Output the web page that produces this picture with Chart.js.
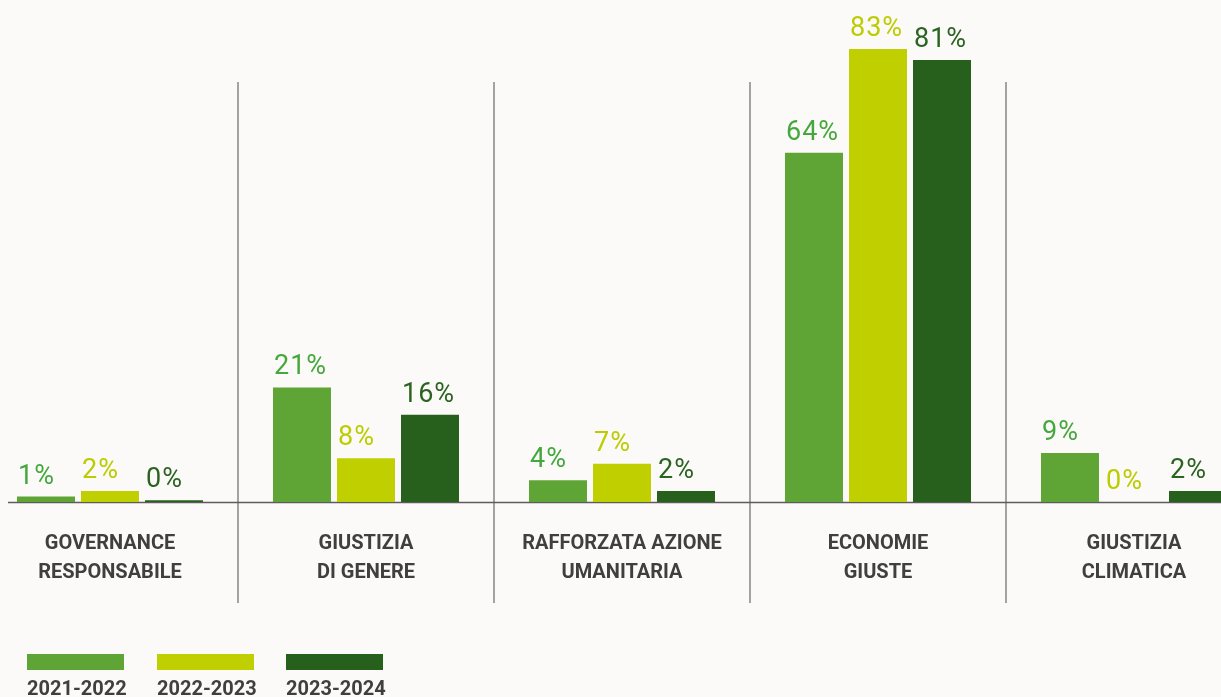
<!DOCTYPE html>
<html>
<head>
<meta charset="utf-8">
<script src="https://cdn.jsdelivr.net/npm/chart.js@4/dist/chart.umd.min.js"></script>
<style>
  html, body { margin: 0; padding: 0; background: #fcfaf8; overflow: hidden; }
  body { width: 1221px; height: 697px; position: relative; font-family: Roboto, sans-serif; }
  #chart { position: absolute; left: -18px; top: 0; }
  #legend { position: absolute; left: 0; top: 654px; }
  .item { position: absolute; top: 0; width: 97px; }
  .box { width: 97px; height: 16px; }
  .lbl { margin-top: 6px; font-size: 20px; font-weight: bold; color: #3f3f3f; line-height: 24px; white-space: nowrap; }
</style>
</head>
<body>
<canvas id="chart" width="1280" height="697"></canvas>
<div id="legend"></div>
<script>
const categories = [
    ['GOVERNANCE', 'RESPONSABILE'],
    ['GIUSTIZIA', 'DI GENERE'],
    ['RAFFORZATA AZIONE', 'UMANITARIA'],
    ['ECONOMIE', 'GIUSTE'],
    ['GIUSTIZIA', 'CLIMATICA']
]
const seriesNames = ['2021-2022', '2022-2023', '2023-2024']
const values2122 = [1, 21, 4, 64, 9]
const values2223 = [2, 8, 7, 83, 0]
const values2324 = [0.3, 16, 2, 81, 2]

const barColors = ['#5fa535', '#c0cf00', '#275f1c']
const labelColors = ['#44a83d', '#bccc00', '#2a6420']

// value labels, left aligned on top of each bar
const valueLabels = {
    id: 'valueLabels',
    afterDatasetsDraw(chart) {
        const ctx = chart.ctx
        ctx.save()
        ctx.font = '27px Roboto'
        ctx.letterSpacing = '1px'
        ctx.textAlign = 'left'
        ctx.textBaseline = 'alphabetic'
        chart.data.datasets.forEach((ds, i) => {
            const meta = chart.getDatasetMeta(i)
            meta.data.forEach((bar, j) => {
                ctx.fillStyle = labelColors[i]
                ctx.fillText(Math.round(ds.data[j]) + '%', bar.x - bar.width / 2 + 1, bar.y - 13)
            })
        })
        ctx.restore()
    }
}

// baseline and separators between categories
const frame = {
    id: 'frame',
    beforeDatasetsDraw(chart) {
        const ctx = chart.ctx
        const x = chart.scales.x
        const bottom = chart.chartArea.bottom
        ctx.save()
        ctx.strokeStyle = '#a3a3a3'
        ctx.lineWidth = 2
        for (let i = 1; i < categories.length; i++) {
            const sx = Math.round((x.getPixelForValue(i - 1) + x.getPixelForValue(i)) / 2)
            ctx.beginPath()
            ctx.moveTo(sx, 82)
            ctx.lineTo(sx, 603)
            ctx.stroke()
        }
        ctx.strokeStyle = '#5c5c5c'
        ctx.lineWidth = 1.5
        ctx.beginPath()
        ctx.moveTo(26, bottom + 0.5)
        ctx.lineTo(chart.width, bottom + 0.5)
        ctx.stroke()
        ctx.restore()
    }
}

const config = {
    type: 'bar',
    data: {
        labels: categories,
        datasets: [values2122, values2223, values2324].map((v, i) => ({
            label: seriesNames[i],
            data: v,
            backgroundColor: barColors[i],
            categoryPercentage: 0.75,
            barPercentage: 0.906
        }))
    },
    options: {
        responsive: false,
        animation: false,
        layout: { padding: 0 },
        plugins: {
            legend: { display: false },
            tooltip: { enabled: false }
        },
        scales: {
            x: {
                grid: { display: false, drawTicks: false },
                border: { display: false },
                ticks: {
                    color: '#3f3f3f',
                    padding: 27,
                    maxRotation: 0,
                    autoSkip: false,
                    font: { family: 'Roboto', size: 20, weight: 'bold', lineHeight: 1.45 }
                },
                afterFit: function(scale) { scale.height = 195 }
            },
            y: {
                display: false,
                min: 0,
                max: 92
            }
        }
    },
    plugins: [frame, valueLabels]
}

new Chart(document.getElementById('chart'), config)

const legend = document.getElementById('legend')
const legendX = [27, 157, 286]
seriesNames.forEach((name, i) => {
    const item = document.createElement('div')
    item.className = 'item'
    item.style.left = legendX[i] + 'px'
    item.innerHTML = '<div class="box" style="background:' + barColors[i] + '"></div><div class="lbl">' + name + '</div>'
    legend.appendChild(item)
})
</script>
</body>
</html>
